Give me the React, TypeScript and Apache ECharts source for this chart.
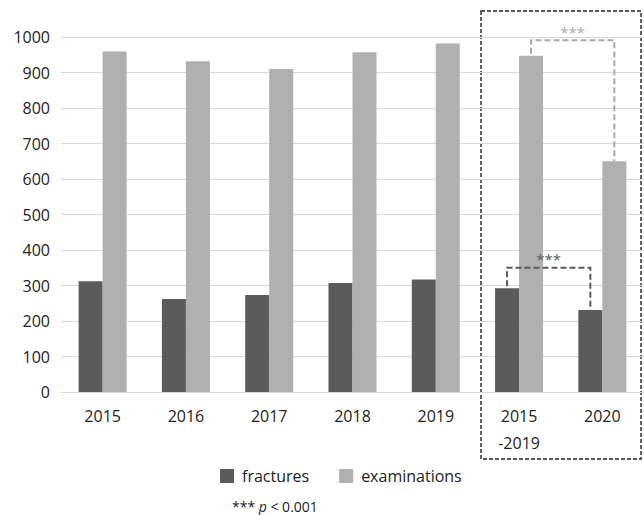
import React, { useEffect, useRef } from "react";
import * as echarts from "echarts";

const categories = ["2015", "2016", "2017", "2018", "2019", "2015\n-2019", "2020"];
const fractures = [312, 262, 273, 307, 317, 292, 231];
const examinations = [959, 932, 910, 957, 982, 947, 650];
const yTicks = { min: 0, max: 1000, interval: 100 };
// [fromCategory, toCategory, fromValue, toValue, bracketTop, side(0=fractures,1=examinations)]
const brackets = [
  [5, 6, 292, 231, 350, 0],
  [5, 6, 947, 650, 991, 1],
];
const bracketLabel = "***";

export default function App() {
  const ref = useRef<HTMLDivElement>(null);
  useEffect(() => {
    const chart = echarts.init(ref.current!, null, { renderer: "svg" });
    const font = "'Open Sans', 'Noto Sans', sans-serif";
    const barW = 24;
    chart.setOption({
      animation: false,
      grid: { left: 61, top: 37, width: 585, height: 355, containLabel: false },
      xAxis: {
        type: "category",
        data: categories,
        axisLine: { lineStyle: { color: "#d9d9d9", width: 1 } },
        axisTick: { show: false },
        axisLabel: { color: "#222", fontSize: 16, fontFamily: font, margin: 10, lineHeight: 27 },
      },
      yAxis: {
        type: "value",
        min: yTicks.min,
        max: yTicks.max,
        interval: yTicks.interval,
        axisLine: { show: false },
        axisTick: { show: false },
        splitLine: { lineStyle: { color: "#d9d9d9", width: 1 } },
        axisLabel: {
          color: "#222",
          fontSize: 16,
          fontFamily: font,
          margin: 11,
          formatter: (v: number) => String(v),
        },
      },
      legend: {
        data: ["fractures", "examinations"],
        left: 215,
        top: 463,
        itemWidth: 14,
        itemHeight: 14,
        itemGap: 30,
        icon: "rect",
        textStyle: { color: "#222", fontSize: 16, fontFamily: font, padding: [0, 0, 0, 3] },
      },
      series: [
        {
          name: "fractures",
          type: "bar",
          data: fractures,
          barWidth: barW,
          barGap: "0%",
          itemStyle: { color: "#5b5b5b" },
        },
        {
          name: "examinations",
          type: "bar",
          data: examinations,
          barWidth: barW,
          barGap: "0%",
          itemStyle: { color: "#b0b0b0" },
        },
        {
          name: "brackets",
          type: "custom",
          data: brackets,
          encode: { x: 0, y: 4 },
          z: 5,
          renderItem: (params: any, api: any) => {
            const a = api.value(0);
            const b = api.value(1);
            const va = api.value(2);
            const vb = api.value(3);
            const top = api.value(4);
            const side = api.value(5);
            const off = side === 0 ? -barW / 2 : barW / 2;
            const color = side === 0 ? "#5b5b5b" : "#aaaaaa";
            const p1 = api.coord([a, va]);
            const p2 = api.coord([b, vb]);
            const pt = api.coord([a, top]);
            const x1 = p1[0] + off;
            const x2 = p2[0] + off;
            return {
              type: "group",
              children: [
                {
                  type: "polyline",
                  shape: {
                    points: [
                      [x1, p1[1] - 2],
                      [x1, pt[1]],
                      [x2, pt[1]],
                      [x2, p2[1]],
                    ],
                  },
                  style: { stroke: color, lineWidth: 2, lineDash: [6, 3], fill: null },
                },
                {
                  type: "text",
                  x: (x1 + x2) / 2,
                  y: pt[1] - 1,
                  style: {
                    text: bracketLabel,
                    fill: color,
                    font: `15px ${font}`,
                    textAlign: "center",
                    textVerticalAlign: "bottom",
                  },
                },
              ],
            };
          },
        },
      ],
      graphic: [
        {
          type: "rect",
          shape: { x: 481, y: 11, width: 160, height: 448 },
          style: { fill: null, stroke: "#222", lineWidth: 1.4, lineDash: [4, 2] },
        },
        {
          type: "text",
          left: 232,
          top: 499,
          style: {
            text: "{a|*** }{p|p}{a| < 0.001}",
            rich: {
              a: { fontSize: 14, fontFamily: font, fill: "#222" },
              p: { fontSize: 14, fontFamily: font, fontStyle: "italic", fill: "#222" },
            },
          },
        },
      ],
    });
    return () => chart.dispose();
  }, []);
  return (
    <div
      ref={ref}
      style={{ position: "fixed", left: 0, top: 0, width: 644, height: 515, background: "#fff" }}
    />
  );
}
